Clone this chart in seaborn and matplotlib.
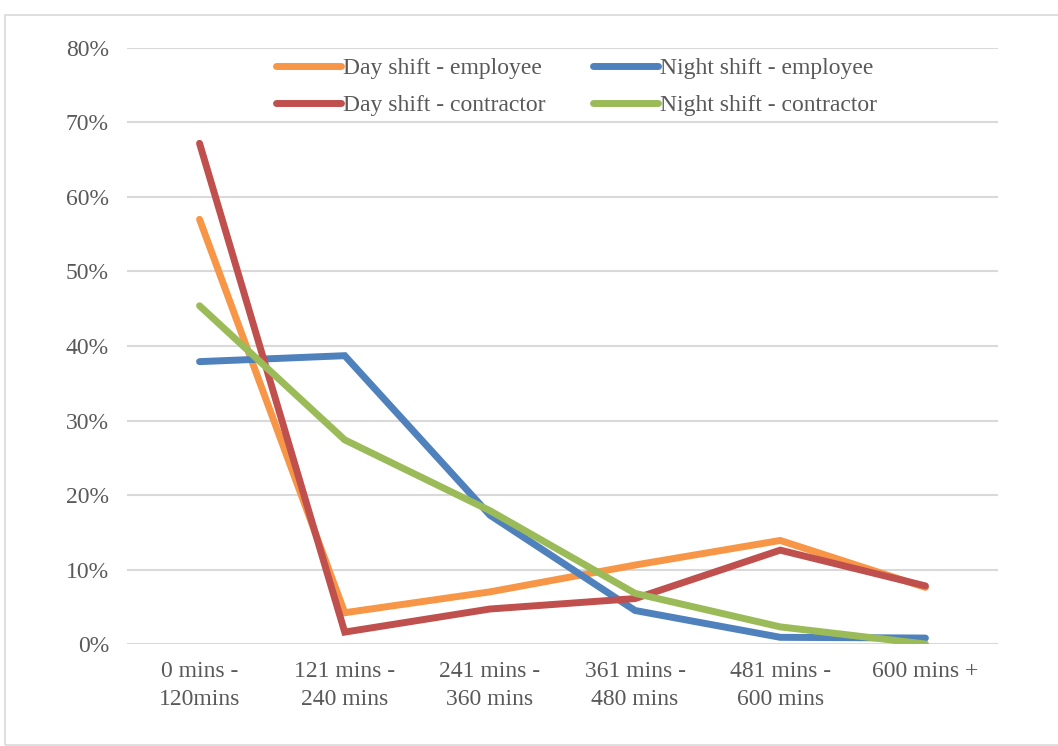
import matplotlib
matplotlib.use("Agg")
import matplotlib.pyplot as plt
import seaborn as sns
import pandas as pd
from matplotlib.patches import Rectangle
from matplotlib.ticker import FuncFormatter

categories = ["0 mins -\n120mins", "121 mins -\n240 mins", "241 mins -\n360 mins",
              "361 mins -\n480 mins", "481 mins -\n600 mins", "600 mins +"]
day_employee = [57.0, 4.2, 7.0, 10.6, 13.9, 7.6]
night_employee = [37.9, 38.7, 17.3, 4.5, 0.9, 0.8]
day_contractor = [67.2, 1.6, 4.7, 6.1, 12.6, 7.8]
night_contractor = [45.4, 27.4, 17.9, 6.8, 2.3, 0.0]

series_names = ["Day shift - employee", "Night shift - employee",
                "Day shift - contractor", "Night shift - contractor"]
series_values = [day_employee, night_employee, day_contractor, night_contractor]
palette = {"Day shift - employee": "#F79646", "Night shift - employee": "#4F81BD",
           "Day shift - contractor": "#C0504D", "Night shift - contractor": "#9BBB59"}

rows = []
for name, vals in zip(series_names, series_values):
    for i, v in enumerate(vals):
        rows.append({"pos": i, "value": v, "series": name})
df = pd.DataFrame(rows)

sns.set_theme(style="white")
plt.rcParams["font.family"] = ["Liberation Serif", "DejaVu Serif"]

LW = 5.0
FS = 17

fig = plt.figure(figsize=(10.58, 7.46), dpi=100)
ax = fig.add_axes([0.12, 0.1367, 0.8233, 0.799])

sns.lineplot(data=df, x="pos", y="value", hue="series", hue_order=series_names,
             palette=palette, linewidth=LW, ax=ax, legend=False,
             solid_capstyle="round", solid_joinstyle="miter")

ax.set_xlim(-0.5, 5.5)
ax.set_ylim(0, 80)
ax.set_yticks(range(0, 81, 10))
ax.yaxis.set_major_formatter(FuncFormatter(lambda v, p: f"{int(v)}%"))
ax.set_xticks(range(len(categories)))
ax.set_xticklabels(categories, linespacing=1.45)
ax.tick_params(axis="both", length=0, labelsize=FS, colors="#595959")
ax.tick_params(axis="x", pad=12)
ax.tick_params(axis="y", pad=13)
ax.set_xlabel("")
ax.set_ylabel("")
ax.grid(axis="y", color="#D9D9D9", linewidth=1.5)
ax.set_axisbelow(True)
for s in ax.spines.values():
    s.set_visible(False)

# legend filled column by column: day series in the left column, night in the right
legend_order = ["Day shift - employee", "Day shift - contractor",
                "Night shift - employee", "Night shift - contractor"]
handles = [plt.Line2D([], [], color=palette[n], linewidth=LW, solid_capstyle="round")
           for n in legend_order]
leg = ax.legend(handles, legend_order, ncol=2, loc="upper center",
                bbox_to_anchor=(0.516, 1.012), frameon=False, fontsize=FS,
                handlelength=2.75, handletextpad=0.1, columnspacing=2.0,
                labelspacing=0.68, borderpad=0.2)
for t in leg.get_texts():
    t.set_color("#595959")

fig.patches.append(Rectangle((5 / 1058, 1 / 746), 1.0, 1 - 16 / 746,
                             transform=fig.transFigure, fill=False,
                             edgecolor="#D9D9D9", linewidth=1.2))

fig.savefig("out.png", dpi=100, facecolor="white")
